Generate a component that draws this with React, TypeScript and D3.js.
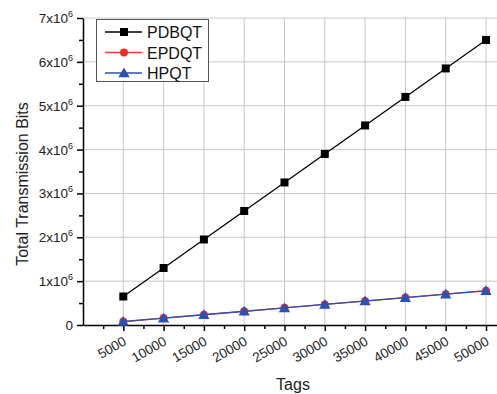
import React, { useRef, useEffect } from 'react';
import * as d3 from 'd3';

const tags = [5000, 10000, 15000, 20000, 25000, 30000, 35000, 40000, 45000, 50000];
const pdbqt = [0.65e6, 1.3e6, 1.95e6, 2.6e6, 3.25e6, 3.9e6, 4.55e6, 5.2e6, 5.85e6, 6.5e6];
const epdqt = [0.08e6, 0.158e6, 0.236e6, 0.314e6, 0.392e6, 0.47e6, 0.548e6, 0.626e6, 0.704e6, 0.782e6];
const hpqt = [0.078e6, 0.156e6, 0.234e6, 0.312e6, 0.39e6, 0.468e6, 0.546e6, 0.624e6, 0.702e6, 0.78e6];
const seriesNames = ['PDBQT', 'EPDQT', 'HPQT'];
const yTicks = [0, 1e6, 2e6, 3e6, 4e6, 5e6, 6e6, 7e6];

export default function App() {
  const svgRef = useRef<SVGSVGElement>(null);

  useEffect(() => {
    if (!svgRef.current) return;
    const svg = d3.select(svgRef.current);
    svg.selectAll('*').remove();

    const width = 497;
    const height = 394;
    const left = 83;
    const top = 18;
    const bottom = 325;
    const font = "'Liberation Sans', Arial, sans-serif";

    const x = d3.scaleLinear().domain([0, 52500]).range([left, left + 40.3 * 10.5]);
    const y = d3.scaleLinear().domain([0, 7e6]).range([bottom, top]);

    svg.append('rect').attr('width', width).attr('height', height).attr('fill', '#fff');

    // grid
    const grid = svg.append('g').attr('stroke', '#c8c8c8').attr('stroke-width', 1);
    tags.forEach(t => {
      grid.append('line')
        .attr('x1', x(t)).attr('x2', x(t))
        .attr('y1', top).attr('y2', bottom);
    });
    yTicks.slice(1).forEach(v => {
      grid.append('line')
        .attr('x1', left).attr('x2', width)
        .attr('y1', y(v)).attr('y2', y(v));
    });

    // y axis
    const yMinor = d3.range(0.5e6, 7e6, 1e6);
    const yAxis = svg.append('g').attr('transform', `translate(${left},0)`);
    yAxis.call(d3.axisLeft(y).tickValues(yTicks).tickSize(6).tickFormat(() => '').tickSizeOuter(0))
      .call(g => g.select('.domain').attr('stroke-width', 1.5))
      .call(g => g.selectAll('.tick line').attr('stroke-width', 1.5));
    yAxis.append('g')
      .call(d3.axisLeft(y).tickValues(yMinor).tickSize(4).tickFormat(() => ''))
      .call(g => g.select('.domain').remove())
      .call(g => g.selectAll('.tick line').attr('stroke-width', 1.5));

    yTicks.forEach(v => {
      const t = svg.append('text')
        .attr('x', left - 10)
        .attr('y', y(v) + 5)
        .attr('text-anchor', 'end')
        .attr('font-family', font)
        .attr('font-size', 13.5)
        .attr('fill', '#222');
      if (v === 0) {
        t.text('0');
      } else {
        t.append('tspan').text(`${v / 1e6}x10`);
        t.append('tspan').attr('font-size', 9).attr('dy', -6).text('6');
      }
    });

    // x axis
    const xMinor = d3.range(2500, 52500, 5000);
    const xAxis = svg.append('g').attr('transform', `translate(0,${bottom})`);
    xAxis.call(d3.axisBottom(x).tickValues(tags).tickSize(6).tickFormat(() => '').tickSizeOuter(0))
      .call(g => g.select('.domain').attr('stroke-width', 1.5))
      .call(g => g.selectAll('.tick line').attr('stroke-width', 1.5));
    xAxis.append('g')
      .call(d3.axisBottom(x).tickValues(xMinor).tickSize(4).tickFormat(() => ''))
      .call(g => g.select('.domain').remove())
      .call(g => g.selectAll('.tick line').attr('stroke-width', 1.5));

    tags.forEach(t => {
      svg.append('text')
        .attr('transform', `translate(${x(t) + 4},${bottom + 19}) rotate(-30)`)
        .attr('text-anchor', 'end')
        .attr('font-family', font)
        .attr('font-size', 13.5)
        .attr('fill', '#222')
        .text(String(t));
    });

    // titles
    svg.append('text')
      .attr('x', 293)
      .attr('y', 390)
      .attr('text-anchor', 'middle')
      .attr('font-family', font)
      .attr('font-size', 16)
      .attr('fill', '#222')
      .text('Tags');
    svg.append('text')
      .attr('transform', `translate(28,184) rotate(-90)`)
      .attr('text-anchor', 'middle')
      .attr('font-family', font)
      .attr('font-size', 16)
      .attr('fill', '#222')
      .text('Total Transmission Bits');

    const line = d3.line<number>().x((_, i) => x(tags[i])).y(d => y(d));
    const tri = d3.symbol().type(d3.symbolTriangle).size(55);
    const circ = d3.symbol().type(d3.symbolCircle).size(50);

    const series = [
      { name: seriesNames[0], values: pdbqt, line: '#000', fill: '#000', marker: 'square' },
      { name: seriesNames[1], values: epdqt, line: '#f03c3c', fill: '#ee2b2b', marker: 'circle' },
      { name: seriesNames[2], values: hpqt, line: '#2650b0', fill: '#2a52b0', marker: 'triangle' },
    ];

    const drawMarker = (g: any, kind: string, cx: number, cy: number, fill: string) => {
      if (kind === 'square') {
        g.append('rect')
          .attr('x', cx - 4).attr('y', cy - 4)
          .attr('width', 8).attr('height', 8)
          .attr('fill', fill);
      } else if (kind === 'circle') {
        g.append('path').attr('d', circ()).attr('transform', `translate(${cx},${cy})`).attr('fill', fill);
      } else {
        g.append('path').attr('d', tri()).attr('transform', `translate(${cx},${cy + 1})`).attr('fill', fill);
      }
    };

    series.forEach(s => {
      const g = svg.append('g');
      g.append('path')
        .attr('d', line(s.values))
        .attr('fill', 'none')
        .attr('stroke', s.line)
        .attr('stroke-width', 1.3);
      s.values.forEach((v, i) => drawMarker(g, s.marker, x(tags[i]), y(v), s.fill));
    });

    // legend
    const lg = svg.append('g');
    lg.append('rect')
      .attr('x', 96.5).attr('y', 19.5)
      .attr('width', 112).attr('height', 62)
      .attr('fill', '#fff')
      .attr('stroke', '#555')
      .attr('stroke-width', 1);
    series.forEach((s, i) => {
      const cy = 32 + i * 20.5;
      lg.append('line')
        .attr('x1', 105).attr('x2', 142)
        .attr('y1', cy).attr('y2', cy)
        .attr('stroke', s.line).attr('stroke-width', 1.3);
      drawMarker(lg, s.marker, 124, cy, s.fill);
      lg.append('text')
        .attr('x', 147).attr('y', cy + 6)
        .attr('font-family', font)
        .attr('font-size', 16)
        .attr('fill', '#111')
        .text(s.name);
    });
  }, []);

  return (
    <svg ref={svgRef} width={497} height={394}
      style={{ position: 'absolute', left: 0, top: 0, display: 'block' }} />
  );
}
